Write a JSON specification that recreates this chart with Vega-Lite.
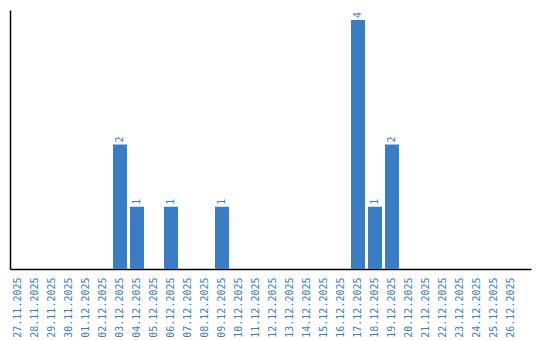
{
  "$schema": "https://vega.github.io/schema/vega-lite/v6.json",
  "autosize": "none",
  "width": 521,
  "height": 259,
  "padding": {"left": 10, "top": 10, "right": 9, "bottom": 71},
  "background": "white",
  "config": {"view": {"stroke": null}, "font": "DejaVu Sans Mono"},
  "data": {"values": [
    {"date": "27.11.2025", "count": 0},
    {"date": "28.11.2025", "count": 0},
    {"date": "29.11.2025", "count": 0},
    {"date": "30.11.2025", "count": 0},
    {"date": "01.12.2025", "count": 0},
    {"date": "02.12.2025", "count": 0},
    {"date": "03.12.2025", "count": 2},
    {"date": "04.12.2025", "count": 1},
    {"date": "05.12.2025", "count": 0},
    {"date": "06.12.2025", "count": 1},
    {"date": "07.12.2025", "count": 0},
    {"date": "08.12.2025", "count": 0},
    {"date": "09.12.2025", "count": 1},
    {"date": "10.12.2025", "count": 0},
    {"date": "11.12.2025", "count": 0},
    {"date": "12.12.2025", "count": 0},
    {"date": "13.12.2025", "count": 0},
    {"date": "14.12.2025", "count": 0},
    {"date": "15.12.2025", "count": 0},
    {"date": "16.12.2025", "count": 0},
    {"date": "17.12.2025", "count": 4},
    {"date": "18.12.2025", "count": 1},
    {"date": "19.12.2025", "count": 2},
    {"date": "20.12.2025", "count": 0},
    {"date": "21.12.2025", "count": 0},
    {"date": "22.12.2025", "count": 0},
    {"date": "23.12.2025", "count": 0},
    {"date": "24.12.2025", "count": 0},
    {"date": "25.12.2025", "count": 0},
    {"date": "26.12.2025", "count": 0}
  ]},
  "encoding": {
    "x": {
      "field": "date", "type": "ordinal", "sort": null,
      "scale": {"paddingInner": 0.1765, "paddingOuter": 0.4118, "align": 0.0714},
      "axis": {
        "title": null, "labelAngle": -90, "labelAlign": "right", "labelBaseline": "middle",
        "labelColor": "#3b7dc4", "labelFontSize": 10, "labelFont": "DejaVu Sans Mono",
        "ticks": false, "labelPadding": 8, "domainColor": "black", "domainWidth": 1.5
      }
    },
    "y": {
      "field": "count", "type": "quantitative",
      "scale": {"domain": [0, 4.16], "nice": false},
      "axis": {"title": null, "labels": false, "ticks": false, "grid": false, "domainColor": "black", "domainWidth": 1.5}
    }
  },
  "layer": [
    {"mark": {"type": "bar", "color": "#3b7dc4"}},
    {
      "transform": [{"filter": "datum.count > 0"}],
      "mark": {"type": "text", "angle": -90, "align": "left", "baseline": "middle", "dx": 2, "color": "#3b7dc4", "fontSize": 10, "font": "DejaVu Sans Mono"},
      "encoding": {"text": {"field": "count", "type": "quantitative"}}
    }
  ]
}
